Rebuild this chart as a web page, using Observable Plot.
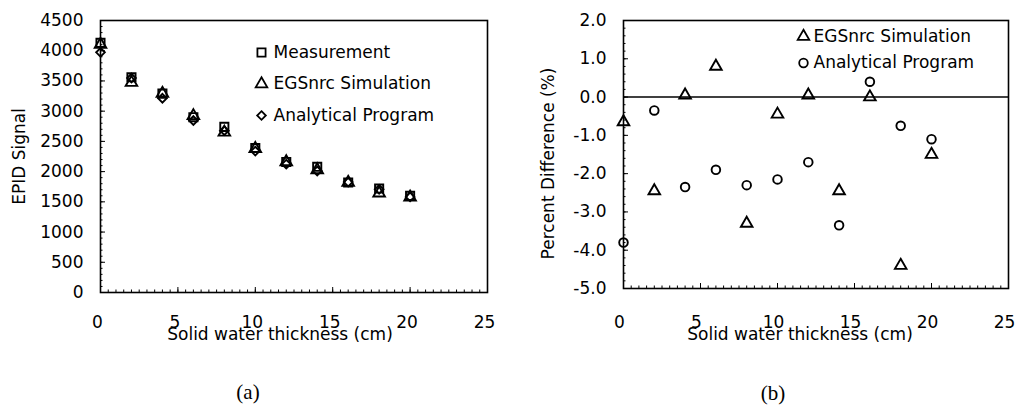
<!DOCTYPE html>
<html>
<head>
<meta charset="utf-8">
<script src="https://cdn.jsdelivr.net/npm/d3@7"></script>
<script src="https://cdn.jsdelivr.net/npm/@observablehq/plot@0.6"></script>
<style>
  html, body { margin: 0; padding: 0; background: #fff; }
  #page { position: relative; width: 1029px; height: 407px; overflow: hidden; background: #fff; }
  .panel { position: absolute; top: 0; }
  .caption {
    position: absolute; width: 60px; text-align: center;
    font-family: "Liberation Serif", "DejaVu Serif", serif; font-size: 21px; color: #000;
  }
</style>
</head>
<body>
<div id="page">
  <div id="panelA" class="panel" style="left:0"></div>
  <div id="panelB" class="panel" style="left:515px"></div>
  <div class="caption" style="left:218px; top:380px">(a)</div>
  <div class="caption" style="left:743px; top:381px">(b)</div>
</div>
<script>
// Solid water thickness (cm)
const thickness = [0, 2, 4, 6, 8, 10, 12, 14, 16, 18, 20];

// EPID signal
const measurement      = [4130, 3560, 3290, 2900, 2740, 2390, 2160, 2080, 1820, 1720, 1600];
const egsSignal        = [4103, 3473, 3292, 2923, 2650, 2379, 2161, 2029, 1820, 1644, 1576];
const analyticalSignal = [3973, 3548, 3213, 2845, 2677, 2339, 2123, 2010, 1827, 1707, 1582];

// Percent difference relative to measurement (%)
const egsPercent        = [-0.65, -2.45, 0.05, 0.8, -3.3, -0.45, 0.05, -2.45, 0.0, -4.4, -1.5];
const analyticalPercent = [-3.8, -0.35, -2.35, -1.9, -2.3, -2.15, -1.7, -3.35, 0.4, -0.75, -1.1];

// Axis ticks
const thicknessTicks = [0, 5, 10, 15, 20, 25];
const signalTicks = [0, 500, 1000, 1500, 2000, 2500, 3000, 3500, 4000, 4500];
const percentTicks = [2, 1, 0, -1, -2, -3, -4, -5];

const seriesA = [
  {name: "Measurement", symbol: "square", values: measurement},
  {name: "EGSnrc Simulation", symbol: "triangle", values: egsSignal},
  {name: "Analytical Program", symbol: "diamond2", values: analyticalSignal}
];
const seriesB = [
  {name: "EGSnrc Simulation", symbol: "triangle", values: egsPercent},
  {name: "Analytical Program", symbol: "circle", values: analyticalPercent}
];

const font = {fontFamily: "DejaVu Sans, Verdana, sans-serif", fontSize: "17px", color: "#000", background: "#fff", overflow: "visible"};
const ink = "#000";
const symbolSize = {square: 4.6, triangle: 4.3, diamond2: 3.9, circle: 4.3};

function rows(series) {
  return series.flatMap(s => thickness.map((t, i) => ({t, v: s.values[i], symbol: s.symbol})));
}

function legendMarks(series, dx0, dy0, gap, textGap) {
  return series.flatMap((s, i) => [
    Plot.dot([s], {frameAnchor: "top-left", dx: dx0, dy: dy0 + i * gap, symbol: () => s.symbol,
      r: symbolSize[s.symbol], stroke: ink, strokeWidth: 1.8, fill: "none"}),
    Plot.text([s.name], {frameAnchor: "top-left", dx: dx0 + textGap, dy: dy0 + i * gap, textAnchor: "start",
      lineAnchor: "middle", fill: ink})
  ]);
}

function pointMarks(series) {
  return series.map(s => Plot.dot(rows([s]), {x: "t", y: "v", symbol: () => s.symbol,
    r: symbolSize[s.symbol], stroke: ink, strokeWidth: 1.9, fill: "none", clip: false}));
}

// Minor and major inward tick marks along the left and bottom frame edges
function tickMarks(yMinor, xMinor, yMajor, xMajor) {
  const blank = () => "";
  return [
    Plot.axisY(yMinor, {anchor: "left", tickSize: -2.5, tickFormat: blank, stroke: ink, label: null}),
    Plot.axisX(xMinor, {anchor: "bottom", tickSize: -2.5, tickFormat: blank, stroke: ink, label: null}),
    Plot.axisY(yMajor, {anchor: "left", tickSize: -5, tickFormat: blank, stroke: ink, label: null}),
    Plot.axisX(xMajor, {anchor: "bottom", tickSize: -5, tickFormat: blank, stroke: ink, label: null})
  ];
}

// (a) EPID signal versus thickness
const chartA = Plot.plot({
  width: 515, height: 345,
  marginLeft: 100, marginRight: 28, marginTop: 20, marginBottom: 53,
  style: font,
  x: {domain: [0, 25]},
  y: {domain: [0, 4500]},
  marks: [
    Plot.frame({stroke: ink, strokeWidth: 1.6}),
    ...tickMarks(d3.range(0, 4501, 100), d3.range(0, 25.01, 0.5), signalTicks, thicknessTicks),
    Plot.axisY(signalTicks, {anchor: "left", tickSize: 0, tickPadding: 17, tickFormat: d => String(d), fill: ink, label: null}),
    Plot.axisX(thicknessTicks, {anchor: "bottom", tickSize: 0, tickPadding: 23, tickFormat: d => String(d), dx: -3, fill: ink, label: null}),
    Plot.text(["EPID Signal"], {frameAnchor: "left", rotate: -90, dx: -81, textAnchor: "middle", lineAnchor: "middle", fill: ink}),
    Plot.text(["Solid water thickness (cm)"], {frameAnchor: "bottom", dx: -14, dy: 35, textAnchor: "middle", lineAnchor: "top", fill: ink}),
    ...pointMarks(seriesA),
    ...legendMarks(seriesA, 161, 32, 31.5, 12)
  ]
});
document.getElementById("panelA").append(chartA);

// (b) Percent difference versus thickness
const chartB = Plot.plot({
  width: 514, height: 345,
  marginLeft: 108, marginRight: 21, marginTop: 20, marginBottom: 57,
  style: font,
  x: {domain: [0, 25]},
  y: {domain: [-5, 2]},
  marks: [
    Plot.frame({stroke: ink, strokeWidth: 1.6}),
    Plot.ruleY([0], {stroke: ink, strokeWidth: 1.6}),
    ...tickMarks(d3.range(-5, 2.01, 0.2), d3.range(0, 25.01, 0.5), percentTicks, thicknessTicks),
    Plot.axisY(percentTicks, {anchor: "left", tickSize: 0, tickPadding: 17, tickFormat: d => d.toFixed(1), fill: ink, label: null}),
    Plot.axisX(thicknessTicks, {anchor: "bottom", tickSize: 0, tickPadding: 27, tickFormat: d => String(d), dx: -4, fill: ink, label: null}),
    Plot.text(["Percent Difference (%)"], {frameAnchor: "left", rotate: -90, dx: -75, dy: 9, textAnchor: "middle", lineAnchor: "middle", fill: ink}),
    Plot.text(["Solid water thickness (cm)"], {frameAnchor: "bottom", dx: -16, dy: 39, textAnchor: "middle", lineAnchor: "top", fill: ink}),
    ...pointMarks(seriesB),
    ...legendMarks(seriesB, 180, 16, 26.5, 10)
  ]
});
document.getElementById("panelB").append(chartB);
</script>
</body>
</html>
